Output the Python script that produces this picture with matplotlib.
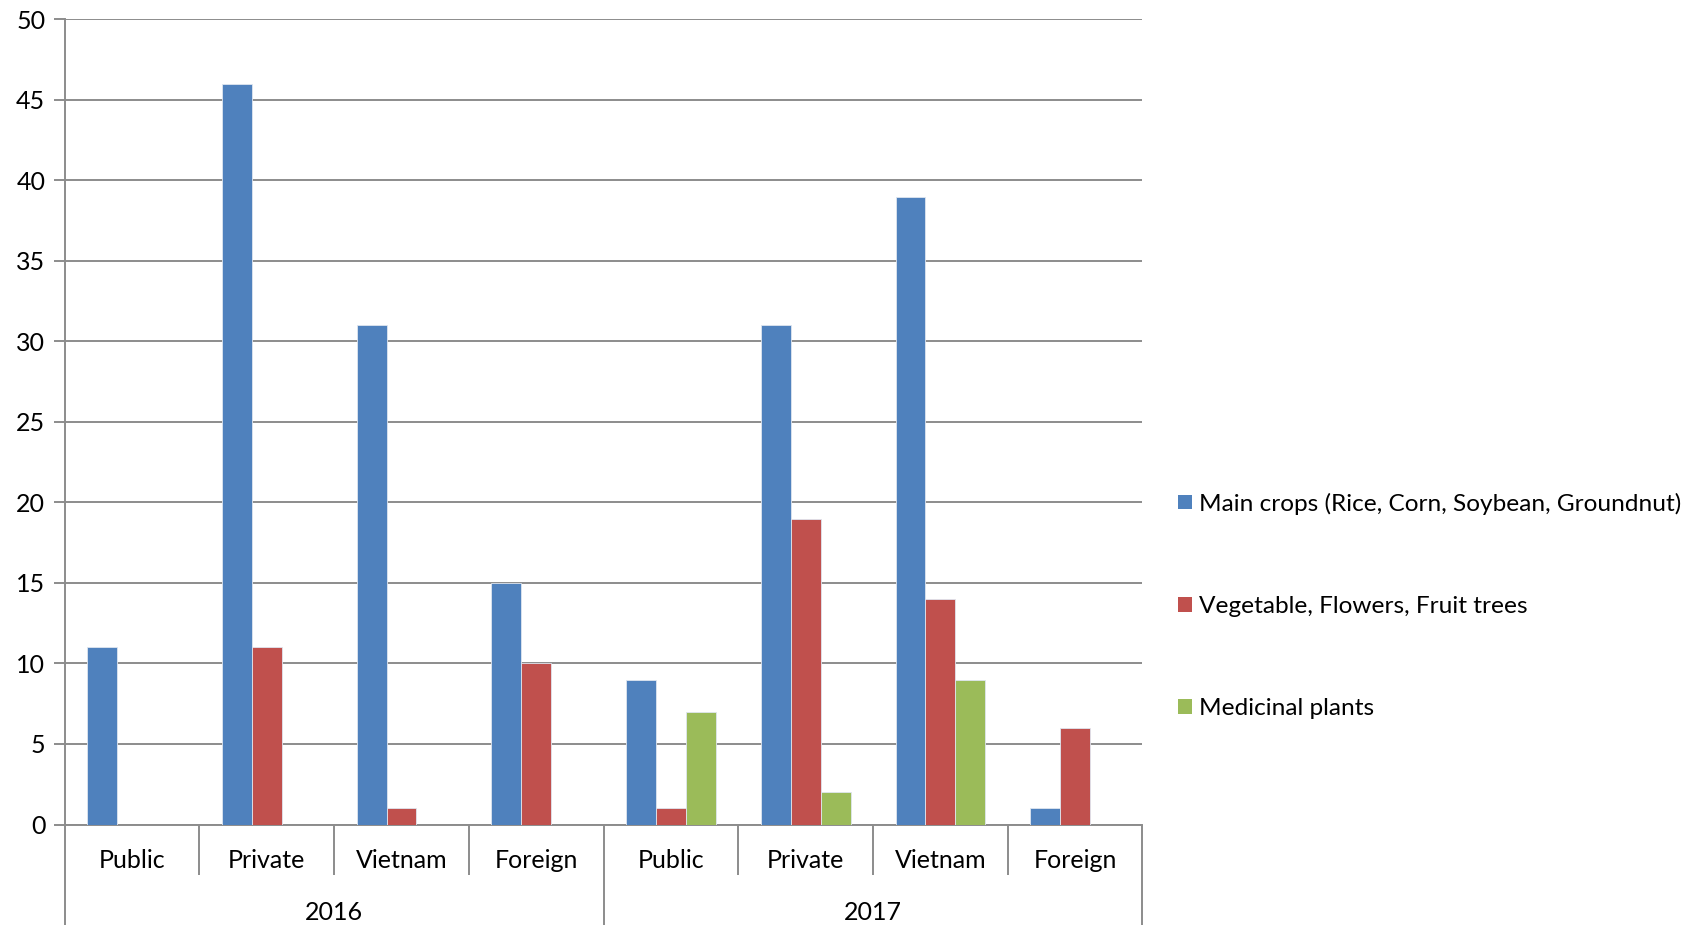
import matplotlib
matplotlib.use("Agg")
import matplotlib.pyplot as plt
from matplotlib.patches import Patch
import numpy as np

years = ["2016", "2017"]
subcats = ["Public", "Private", "Vietnam", "Foreign"]
series_names = ["Main crops (Rice, Corn, Soybean, Groundnut)",
                "Vegetable, Flowers, Fruit trees",
                "Medicinal plants"]
main_crops = [11, 46, 31, 15, 9, 31, 39, 1]
vegetables = [0, 11, 1, 10, 1, 19, 14, 6]
medicinal = [0, 0, 0, 0, 7, 2, 9, 0]
yticks = [0, 5, 10, 15, 20, 25, 30, 35, 40, 45, 50]

colors = ["#4F81BD", "#C0504D", "#9BBB59"]
grid_c = "#8C8C8C"

plt.rcParams['font.family'] = ['Lato', 'DejaVu Sans']
FS = 18
W, H = 1690, 925
fig = plt.figure(figsize=(W / 100, H / 100), dpi=100)
left, right, top, bot = 64.7, 1142.5, 19.4, 824.5
ax = fig.add_axes([left / W, (H - bot) / H, (right - left) / W, (bot - top) / H])

n = len(years) * len(subcats)
x = np.arange(n)
bw = 1 / 4.5
for i, vals in enumerate([main_crops, vegetables, medicinal]):
    ax.bar(x + (i - 1) * bw, vals, width=bw, color=colors[i],
           edgecolor="#dfe6f0", linewidth=0.6, zorder=3, label=series_names[i])

ax.set_xlim(-0.5, n - 0.5)
ax.set_ylim(0, 50)
ax.set_yticks(yticks)
ax.yaxis.grid(True, color=grid_c, linewidth=1.4, zorder=0)
ax.tick_params(axis='y', length=8, width=1.4, color=grid_c, labelsize=FS, pad=6)
ax.set_xticks([])
for s in ["top", "right"]:
    ax.spines[s].set_visible(False)
for s in ["left", "bottom"]:
    ax.spines[s].set_color(grid_c)
    ax.spines[s].set_linewidth(1.4)

trans = ax.get_xaxis_transform()
axh = bot - top
def yax(px):
    return (bot - px) / axh

# subcategory labels and separators
for k in range(n):
    ax.text(k, yax(860), subcats[k % len(subcats)], transform=trans,
            ha='center', va='center', fontsize=FS, color='black')
for b in range(n + 1):
    xb = b - 0.5
    if b % len(subcats) == 0:
        y1 = yax(925)
    else:
        y1 = yax(875)
    ax.plot([xb, xb], [0, y1], transform=trans, color=grid_c, lw=1.4,
            clip_on=False, solid_capstyle='butt')
for j, yr in enumerate(years):
    xc = j * len(subcats) + (len(subcats) - 1) / 2
    ax.text(xc, yax(912), yr, transform=trans, ha='center', va='center',
            fontsize=FS, color='black')

handles = [Patch(facecolor=c, edgecolor='none') for c in colors]
fig.legend(handles, series_names, loc='center left',
           bbox_to_anchor=(1156 / W, 1 - 606 / H), frameon=False,
           fontsize=17.6, handlelength=0.56, handleheight=0.56,
           handletextpad=0.3, labelspacing=3.33)

fig.savefig("out.png", dpi=100)
